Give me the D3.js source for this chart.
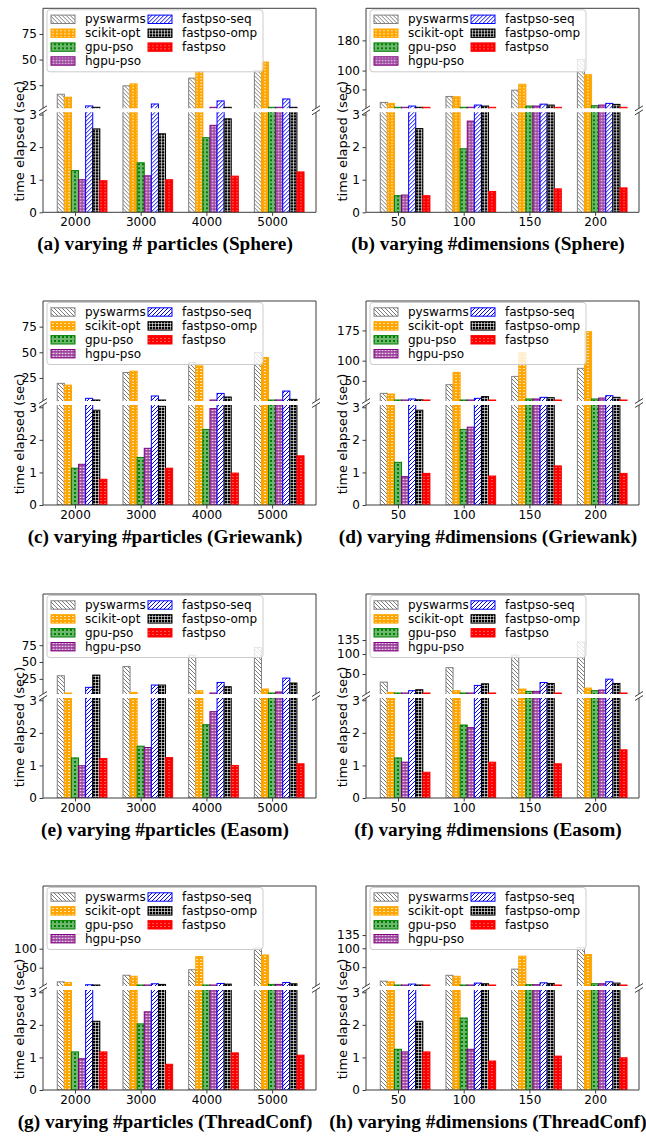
<!DOCTYPE html>
<html>
<head>
<meta charset="utf-8">
<script src="https://cdn.jsdelivr.net/npm/d3@7"></script>
<style>
  body { margin: 0; background: #fff; }
  svg text { font-family: "DejaVu Sans", sans-serif; }
  .caption { font-family: "Liberation Serif", serif; font-weight: bold; }
</style>
</head>
<body>
<svg id="chart" width="646" height="1137"></svg>
<script>
// ─── Data ───
const seriesNames = ["pyswarms", "scikit-opt", "gpu-pso", "hgpu-pso", "fastpso-seq", "fastpso-omp", "fastpso"];
const particleLabels = ["2000", "3000", "4000", "5000"];
const dimensionLabels = ["50", "100", "150", "200"];

// one row per series, one value per x category (seconds)
const sphereParticles = [
  [16.2, 24.4, 31.9, 39.4],
  [13.3, 26.3, 38.5, 47.6],
  [1.28, 1.52, 2.29, 3.1],
  [1.0, 1.12, 2.67, 3.1],
  [4.8, 6.7, 9.7, 11.6],
  [2.56, 2.41, 2.87, 3.2],
  [0.97, 1.0, 1.11, 1.24],
];
const sphereDimensions = [
  [15.6, 31.4, 48, 129],
  [13, 30.5, 63.7, 89],
  [0.51, 1.95, 6, 6.9],
  [0.53, 2.8, 6, 8.6],
  [6, 8.6, 11, 13],
  [2.57, 6, 8.6, 10.4],
  [0.51, 0.64, 0.72, 0.75],
];
const griewankParticles = [
  [19.7, 30.3, 40.0, 49.7],
  [18.0, 31.6, 36.8, 44.9],
  [1.13, 1.46, 2.32, 3.1],
  [1.25, 1.74, 2.96, 3.5],
  [5.1, 7.4, 9.9, 12.2],
  [2.91, 3.03, 6.4, 4.1],
  [0.79, 1.13, 0.98, 1.51],
];
const griewankDimensions = [
  [19, 40.5, 61, 81],
  [17.4, 71, 120, 172],
  [1.31, 2.32, 5, 5],
  [0.87, 2.39, 5, 7.4],
  [5, 6.6, 9.1, 13.2],
  [2.91, 10.8, 8.3, 9.1],
  [0.97, 0.89, 1.2, 0.97],
];
const easomParticles = [
  [29.6, 43.4, 60.1, 71.5],
  [3.5, 5, 7.4, 9.9],
  [1.23, 1.59, 2.25, 4],
  [0.99, 1.55, 2.65, 5.5],
  [12.4, 15.8, 19.7, 26.1],
  [30.6, 15.8, 13.3, 18.8],
  [1.21, 1.24, 1.0, 1.05],
];
const easomDimensions = [
  [29.7, 65.9, 97.2, 130],
  [4, 8.3, 12.4, 14.8],
  [1.23, 2.24, 6.6, 8.3],
  [1.1, 2.16, 6.6, 9.9],
  [8.3, 21.4, 28.8, 37.1],
  [10.7, 25.5, 26.4, 26.4],
  [0.79, 1.1, 1.05, 1.48],
];
const threadParticles = [
  [12.8, 30.1, 44.7, 102],
  [11.1, 27.5, 79.2, 83.5],
  [1.17, 2.03, 4.2, 6],
  [0.96, 2.4, 4.2, 6],
  [5.1, 7.7, 8.5, 11.1],
  [2.11, 6, 6.8, 7.7],
  [1.17, 0.79, 1.14, 1.07],
];
const threadDimensions = [
  [12.8, 28.3, 44.7, 102],
  [11.1, 25.8, 79.2, 83.5],
  [1.25, 2.21, 3.4, 6],
  [1.17, 1.25, 3.4, 6],
  [5.1, 7.7, 8.5, 11.1],
  [2.11, 6, 6.8, 7.7],
  [1.17, 0.89, 1.04, 0.99],
];

const upperDomains = [[2.5, 100], [0, 265], [2.5, 100], [0, 248], [2.5, 151], [0, 250], [1.8, 265], [0, 265]];
const upperTicks = [[25, 50, 75], [50, 100, 180], [25, 50, 75], [50, 100, 175], [25, 50, 75], [50, 100, 135], [50, 100], [50, 100, 135]];
const lowerDomain = [0, 3.07];
const lowerTicks = [0, 1, 2, 3];
const captions = [
  "(a) varying # particles (Sphere)",
  "(b) varying #dimensions (Sphere)",
  "(c) varying #particles (Griewank)",
  "(d) varying #dimensions (Griewank)",
  "(e) varying #particles (Easom)",
  "(f) varying #dimensions (Easom)",
  "(g) varying #particles (ThreadConf)",
  "(h) varying #dimensions (ThreadConf)",
];

const panelData = [sphereParticles, sphereDimensions, griewankParticles, griewankDimensions,
  easomParticles, easomDimensions, threadParticles, threadDimensions];

// ─── Styles ───
const edgeColors = ["#808080", "#FFA500", "#008000", "#800080", "#0000FF", "#000000", "#FF0000"];
const spineColor = "#3c3c3c";

// ─── Layout ───
const colX = [43, 366];
const rowY = [8.3, 301, 594, 886];
const captionX = [165, 488];
const W = 273, HU = 100, GAP = 4, HL = 100;
const barW = 0.108;

const svg = d3.select("#chart");
const defs = svg.append("defs");

// ── Hatch patterns ──
function pattern(id, w, h, bg) {
  const p = defs.append("pattern")
    .attr("id", id)
    .attr("patternUnits", "userSpaceOnUse")
    .attr("width", w)
    .attr("height", h);
  p.append("rect").attr("width", w).attr("height", h).attr("fill", bg);
  return p;
}

pattern("h0", 4, 4, "#fff").append("path")
  .attr("d", "M-1,-1L5,5M-1,3L1,5M3,-1L5,1")
  .attr("stroke", "#7a7a7a").attr("stroke-width", 1);
pattern("h1", 4, 3, "#FFA500").append("rect")
  .attr("x", 1).attr("y", 1).attr("width", 2).attr("height", 1)
  .attr("fill", "#fff").attr("fill-opacity", 0.7);
pattern("h2", 4, 4, "#008000").append("circle")
  .attr("cx", 2).attr("cy", 2).attr("r", 1.3)
  .attr("fill", "none").attr("stroke", "#fff").attr("stroke-width", 0.7);
pattern("h3", 3, 3, "#9a3d9a").append("rect")
  .attr("x", 0.6).attr("y", 0.7).attr("width", 1.9).attr("height", 1.4)
  .attr("fill", "#fff").attr("fill-opacity", 0.75);
pattern("h4", 4, 4, "#fff").append("path")
  .attr("d", "M-1,5L5,-1M-1,1L1,-1M3,5L5,3")
  .attr("stroke", "#0000FF").attr("stroke-width", 1);
pattern("h5", 3, 3, "#000").append("path")
  .attr("d", "M0,1.5H3M1.5,0V3")
  .attr("stroke", "#fff").attr("stroke-width", 0.6);
pattern("h6", 4, 3, "#FF0000").append("rect")
  .attr("x", 1).attr("y", 1).attr("width", 2).attr("height", 1)
  .attr("fill", "#fff").attr("fill-opacity", 0.35);

function styleAxis(a) {
  a.attr("font-size", 12).attr("font-family", "DejaVu Sans");
  a.selectAll("text").attr("fill", "#000");
  a.selectAll("line").attr("stroke", spineColor);
  a.select(".domain").remove();
}

// ─── Panels ───
panelData.forEach((data, k) => {
  const col = k % 2, row = Math.floor(k / 2);
  const cats = col === 0 ? particleLabels : dimensionLabels;
  const x0 = colX[col], y0 = rowY[row];
  const g = svg.append("g").attr("transform", `translate(${x0},${y0})`);

  const x = d3.scaleLinear().domain([-0.487, 3.668]).range([0, W]);
  const yU = d3.scaleLinear().domain(upperDomains[k]).range([HU, 0]);
  const yL = d3.scaleLinear().domain(lowerDomain).range([HU + GAP + HL, HU + GAP]);
  const bwPx = x(barW) - x(0);

  defs.append("clipPath").attr("id", `cu${k}`)
    .append("rect").attr("width", W).attr("height", HU);
  defs.append("clipPath").attr("id", `cl${k}`)
    .append("rect").attr("y", HU + GAP).attr("width", W).attr("height", HL);

  const flat = [];
  data.forEach((vals, s) => vals.forEach((v, i) => flat.push({ s, i, v })));
  const bx = (d) => x(d.i + (d.s - 2) * barW) - bwPx / 2;
  const lo = upperDomains[k][0];
  const topU = (d) => Math.max(Math.min(yU(d.v), HU - 1), -2);
  const topL = (d) => Math.max(yL(d.v), HU + GAP - 2);

  // upper (broken) part
  g.append("g").attr("clip-path", `url(#cu${k})`)
    .selectAll("rect")
    .data(flat.filter((d) => d.v > lo))
    .join("rect")
    .attr("x", bx)
    .attr("y", topU)
    .attr("width", bwPx)
    .attr("height", (d) => HU + 2 - topU(d))
    .attr("fill", (d) => `url(#h${d.s})`)
    .attr("stroke", (d) => edgeColors[d.s])
    .attr("stroke-width", 1);

  // lower part
  g.append("g").attr("clip-path", `url(#cl${k})`)
    .selectAll("rect")
    .data(flat)
    .join("rect")
    .attr("x", bx)
    .attr("y", topL)
    .attr("width", bwPx)
    .attr("height", (d) => yL(0) - topL(d))
    .attr("fill", (d) => `url(#h${d.s})`)
    .attr("stroke", (d) => edgeColors[d.s])
    .attr("stroke-width", 1);

  // spines
  g.append("path")
    .attr("d", `M0,${HU}V0H${W}V${HU}`)
    .attr("fill", "none").attr("stroke", spineColor);
  g.append("path")
    .attr("d", `M0,${HU + GAP}V${HU + GAP + HL}H${W}V${HU + GAP}`)
    .attr("fill", "none").attr("stroke", spineColor);

  // break marks
  [0, W].forEach((xx) => {
    [HU, HU + GAP].forEach((yy) => {
      g.append("line")
        .attr("x1", xx - 4).attr("y1", yy + 2.5)
        .attr("x2", xx + 4).attr("y2", yy - 2.5)
        .attr("stroke", spineColor).attr("stroke-width", 1);
    });
  });

  // axes
  g.append("g")
    .call(d3.axisLeft(yU).tickValues(upperTicks[k]).tickSize(3.5).tickPadding(2.5))
    .call(styleAxis);
  g.append("g")
    .call(d3.axisLeft(yL).tickValues(lowerTicks).tickFormat(d3.format("d")).tickSize(3.5).tickPadding(2.5))
    .call(styleAxis);
  g.append("g")
    .attr("transform", `translate(0,${HU + GAP + HL})`)
    .call(d3.axisBottom(x).tickValues([0, 1, 2, 3]).tickFormat((i) => cats[i]).tickSize(3.5).tickPadding(2))
    .call(styleAxis);

  // legend
  const lg = g.append("g");
  lg.append("rect")
    .attr("x", 4).attr("y", 1.5).attr("width", 216).attr("height", 62).attr("rx", 3)
    .attr("fill", "#fff").attr("fill-opacity", 0.8)
    .attr("stroke", "#cccccc").attr("stroke-width", 1);
  seriesNames.forEach((name, s) => {
    const c = s < 4 ? 0 : 1;
    const r = s < 4 ? s : s - 4;
    const cy = 11 + r * 13.9;
    lg.append("rect")
      .attr("x", c ? 105 : 8).attr("y", cy - 4.2)
      .attr("width", 24).attr("height", 8.4)
      .attr("fill", `url(#h${s})`)
      .attr("stroke", edgeColors[s]).attr("stroke-width", 1);
    lg.append("text")
      .attr("x", c ? 139 : 42).attr("y", cy).attr("dy", "0.35em")
      .attr("font-size", 12).attr("fill", "#000")
      .text(name);
  });

  // y label
  svg.append("text")
    .attr("transform", `translate(${x0 - 24},${y0 + 133}) rotate(-90)`)
    .attr("text-anchor", "middle").attr("dy", "0.35em")
    .attr("font-size", 13).attr("fill", "#000")
    .text("time elapsed (sec)");

  // caption
  svg.append("text")
    .attr("class", "caption")
    .attr("x", captionX[col]).attr("y", y0 + 242)
    .attr("text-anchor", "middle")
    .attr("font-size", 19.3).attr("fill", "#000")
    .text(captions[k]);
});
</script>
</body>
</html>
